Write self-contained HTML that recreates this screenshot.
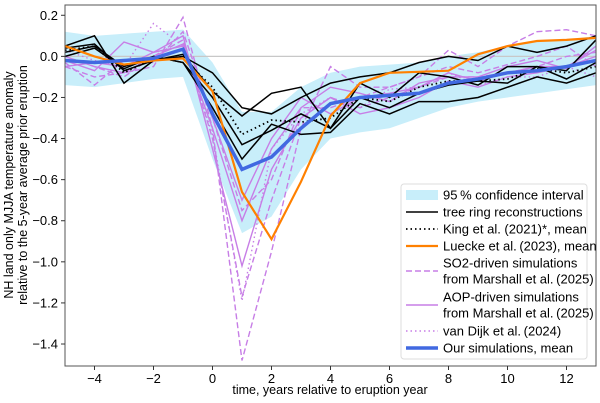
<!DOCTYPE html>
<html><head><meta charset="utf-8"><style>
html,body{margin:0;padding:0;background:#fff;}
svg{display:block;font-family:"Liberation Sans",Arial,sans-serif;}
</style></head><body>
<svg id="chart" width="600" height="403" viewBox="0 0 600 403" xmlns="http://www.w3.org/2000/svg">
<rect x="0" y="0" width="600" height="403" fill="#fff"/>
<g id="plot"></g>
<g id="axes"></g>
<text x="330" y="394" font-size="12.5" text-anchor="middle">time, years relative to eruption year</text>
<g font-size="12.5" text-anchor="middle">
<text transform="translate(13,185) rotate(-90)">NH land only MJJA temperature anomaly</text>
<text transform="translate(27,185) rotate(-90)">relative to the 5-year average prior eruption</text>
</g>
<g id="legend"></g>
</svg>
<script>
const years=[-5,-4,-3,-2,-1,0,1,2,3,4,5,6,7,8,9,10,11,12,13];
const xTicks=[-4,-2,0,2,4,6,8,10,12];
const yTicks=[0.2,0.0,-0.2,-0.4,-0.6,-0.8,-1.0,-1.2,-1.4];
const ciUpper=[0.12,0.1,0.11,0.12,0.13,-0.03,-0.27,-0.27,-0.15,-0.08,-0.05,-0.04,-0.03,0.0,0.02,0.05,0.07,0.08,0.1];
const ciLower=[-0.14,-0.15,-0.13,-0.11,-0.1,-0.5,-0.86,-0.78,-0.55,-0.4,-0.37,-0.35,-0.3,-0.25,-0.22,-0.2,-0.18,-0.16,-0.14];
const tree1=[0.05,0.10,-0.13,-0.02,0.0,-0.08,-0.25,-0.28,-0.20,-0.13,-0.10,-0.08,-0.03,0.0,-0.02,0.05,0.02,0.05,0.1];
const tree2=[0.04,0.06,-0.07,-0.02,0.01,-0.17,-0.29,-0.18,-0.15,-0.35,-0.13,-0.2,-0.08,-0.1,-0.14,-0.05,-0.05,-0.07,0.08];
const tree3=[0.02,0.05,-0.05,0.0,-0.03,-0.2,-0.43,-0.36,-0.28,-0.35,-0.2,-0.25,-0.18,-0.14,-0.12,-0.13,-0.05,-0.11,-0.03];
const tree4=[0.0,0.04,-0.06,0.0,-0.03,-0.25,-0.50,-0.33,-0.38,-0.37,-0.23,-0.28,-0.22,-0.22,-0.2,-0.15,-0.1,-0.13,-0.08];
const kingMean=[0.03,0.05,-0.08,-0.01,-0.01,-0.15,-0.38,-0.31,-0.32,-0.30,-0.2,-0.22,-0.15,-0.12,-0.12,-0.11,-0.06,-0.08,-0.05];
const lueckeMean=[0.05,0.0,-0.04,-0.02,-0.01,-0.17,-0.66,-0.89,-0.61,-0.29,-0.13,-0.08,-0.075,-0.07,0.01,0.05,0.075,0.08,0.09];
const so2a=[-0.05,-0.10,-0.08,-0.05,0.19,-0.35,-1.48,-0.95,-0.35,-0.05,-0.15,-0.15,-0.1,0.03,-0.05,0.05,0.12,0.13,0.1];
const so2b=[-0.03,-0.14,-0.02,-0.03,0.12,-0.3,-0.75,-0.6,-0.25,-0.25,-0.2,-0.15,-0.1,-0.05,-0.08,-0.04,0.0,0.05,-0.05];
const so2c=[0.0,-0.05,-0.1,0.0,0.08,-0.4,-1.17,-0.7,-0.3,-0.2,-0.25,-0.2,-0.15,-0.1,-0.1,-0.08,-0.05,0.0,0.02];
const aop1=[-0.02,-0.07,0.07,0.02,0.1,-0.45,-1.02,-0.55,-0.3,-0.2,-0.28,-0.25,-0.2,-0.12,-0.15,-0.1,-0.08,-0.05,0.0];
const aop2=[-0.05,-0.03,-0.05,0.02,0.05,-0.35,-0.8,-0.45,-0.25,-0.15,-0.18,-0.22,-0.13,-0.1,-0.1,-0.05,-0.02,-0.06,0.05];
const aop3=[0.0,-0.05,-0.08,0.0,0.06,-0.3,-0.7,-0.4,-0.2,-0.28,-0.2,-0.18,-0.15,-0.08,-0.12,-0.08,-0.05,-0.05,0.03];
const vanDijk=[0.03,-0.02,-0.05,0.16,0.05,-0.38,-1.19,-0.45,-0.28,-0.2,-0.25,-0.16,-0.15,-0.08,-0.14,-0.1,-0.1,-0.05,-0.1];
const oursMean=[-0.02,-0.03,-0.02,-0.01,0.035,-0.28,-0.55,-0.49,-0.35,-0.23,-0.2,-0.19,-0.18,-0.13,-0.11,-0.08,-0.07,-0.05,-0.02];

const NS="http://www.w3.org/2000/svg";
const L=65,R=596,T=5,B=366;
const xMin=-5,xMax=13,yMin=-1.507,yMax=0.25;
function xs(v){return L+(v-xMin)/(xMax-xMin)*(R-L);}
function ys(v){return T+(yMax-v)/(yMax-yMin)*(B-T);}
function mk(tag,attrs,parent){const e=document.createElementNS(NS,tag);for(const k in attrs)e.setAttribute(k,attrs[k]);parent.appendChild(e);return e;}
const plot=document.getElementById('plot'),axes=document.getElementById('axes'),leg=document.getElementById('legend');
const PURP="#c77ee6";

const clip=mk('clipPath',{id:'clp'},plot);mk('rect',{x:L,y:T,width:R-L,height:B-T},clip);
const g=mk('g',{'clip-path':'url(#clp)'},plot);

let d='';years.forEach((t,i)=>{d+=(i?'L':'M')+xs(t)+','+ys(ciUpper[i]);});
for(let i=years.length-1;i>=0;i--)d+='L'+xs(years[i])+','+ys(ciLower[i]);
const band=mk('path',{d:d+'Z',fill:'#c8eefa'},g);



const zl=mk('line',{x1:L,x2:R,y1:ys(0),y2:ys(0),stroke:'#c8c8c8','stroke-width':1.2},g);



function line(vals,stroke,w,dash,name){
  let p='';years.forEach((t,i)=>{p+=(i?'L':'M')+xs(t).toFixed(1)+','+ys(vals[i]).toFixed(1);});
  const e=mk('path',{d:p,fill:'none',stroke:stroke,'stroke-width':w,'stroke-linejoin':'miter'},g);
  if(dash)e.setAttribute('stroke-dasharray',dash);
  
  
}
line(so2a,PURP,1.4,'6,3','so2-simulation-a');
line(so2b,PURP,1.4,'6,3','so2-simulation-b');
line(so2c,PURP,1.4,'6,3','so2-simulation-c');
line(aop1,PURP,1.4,null,'aop-simulation-a');
line(aop2,PURP,1.4,null,'aop-simulation-b');
line(aop3,PURP,1.4,null,'aop-simulation-c');
line(vanDijk,PURP,1.4,'1.5,3','van-dijk-line');
line(tree1,'#000',1.5,null,'tree-ring-a');
line(tree2,'#000',1.5,null,'tree-ring-b');
line(tree3,'#000',1.5,null,'tree-ring-c');
line(tree4,'#000',1.5,null,'tree-ring-d');
line(kingMean,'#000',1.8,'1.5,3','king-mean-line');
line(lueckeMean,'#ff8000',2.2,null,'luecke-mean-line');
line(oursMean,'#4169e1',3.5,null,'our-simulations-mean-line');

const frame=mk('rect',{x:L,y:T,width:R-L,height:B-T,fill:'none',stroke:'#555','stroke-width':1},axes);


xTicks.forEach(t=>{
  mk('line',{x1:xs(t),x2:xs(t),y1:B,y2:B+4,stroke:'#333'},axes);
  const tx=mk('text',{x:xs(t),y:B+17,'font-size':13,'text-anchor':'middle'},axes);
  tx.textContent=(t<0?'\u2212'+(-t):''+t);
  
  
});
yTicks.forEach(v=>{
  mk('line',{x1:L-4,x2:L,y1:ys(v),y2:ys(v),stroke:'#333'},axes);
  const tx=mk('text',{x:L-7,y:ys(v)+4.5,'font-size':13,'text-anchor':'end'},axes);
  tx.textContent=(v<0?'\u2212':'')+Math.abs(v).toFixed(1);
  
  
});

mk('rect',{x:401,y:184,width:186,height:175,fill:'#fff','fill-opacity':0.9,stroke:'#ddd',rx:3},leg);
const items=[
 {n:'legend-confidence-interval',y:195,t:['95\u2009% confidence interval'],type:'band'},
 {n:'legend-tree-ring',y:212,t:['tree ring reconstructions'],c:'#000',w:1.5},
 {n:'legend-king',y:229,t:['King et al. (2021)*, mean'],c:'#000',w:1.8,d:'1.5,3'},
 {n:'legend-luecke',y:246,t:['Luecke et al.\u2009(2023), mean'],c:'#ff8000',w:2.2},
 {n:'legend-so2',y:271,t:['SO2-driven simulations','from Marshall et al.\u2009(2025)'],c:PURP,w:1.4,d:'6,3'},
 {n:'legend-aop',y:305,t:['AOP-driven simulations','from Marshall et al.\u2009(2025)'],c:PURP,w:1.4},
 {n:'legend-van-dijk',y:331,t:['van Dijk et al.\u2009(2024)'],c:PURP,w:1.4,d:'1.5,3'},
 {n:'legend-ours',y:348,t:['Our simulations, mean'],c:'#4169e1',w:3.5}
];
items.forEach(it=>{
  const ig=mk('g',{},leg);
  
  
  if(it.type==='band')mk('rect',{x:406,y:it.y-5,width:32,height:10,fill:'#c8eefa'},ig);
  else{const l=mk('line',{x1:406,x2:438,y1:it.y,y2:it.y,stroke:it.c,'stroke-width':it.w},ig);if(it.d)l.setAttribute('stroke-dasharray',it.d);}
  it.t.forEach((s,k)=>{const off=it.t.length>1?(k?8:-8):0;const tx=mk('text',{x:443,y:it.y+off+4.5,'font-size':13},ig);tx.textContent=s;});
});
</script>
</body></html>
